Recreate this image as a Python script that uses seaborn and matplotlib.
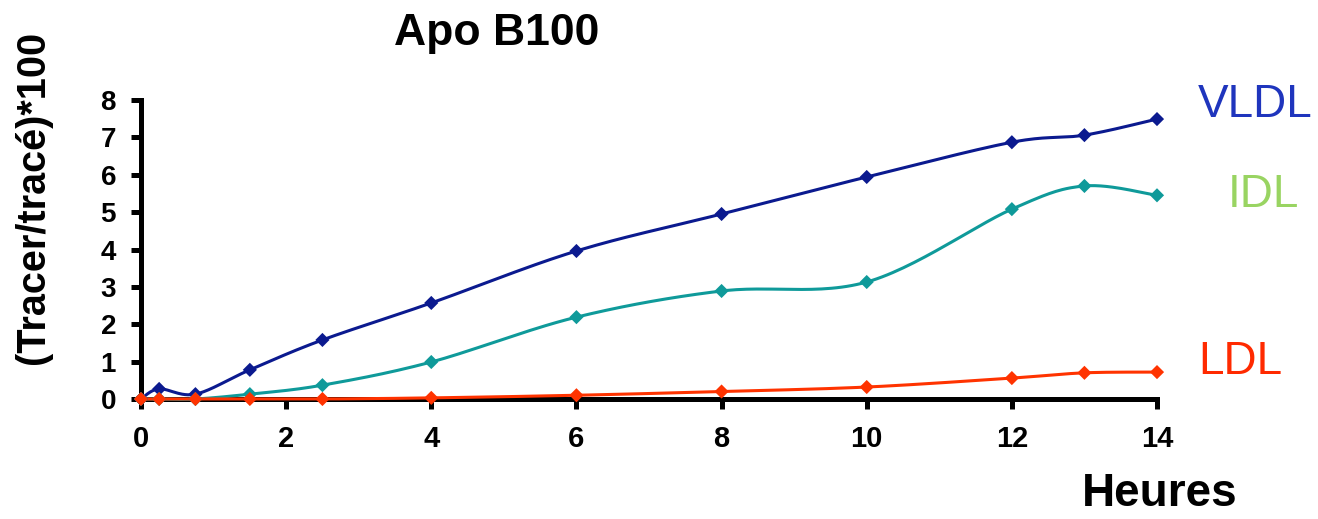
import numpy as np
import pandas as pd
import matplotlib
matplotlib.use("Agg")
import matplotlib.pyplot as plt
import seaborn as sns

# ---- data ----
hours = [0, 0.25, 0.75, 1.5, 2.5, 4, 6, 8, 10, 12, 13, 14]
vldl = [0.0, 0.27, 0.13, 0.78, 1.58, 2.57, 3.96, 4.95, 5.94, 6.87, 7.06, 7.49]
idl = [0.0, 0.0, 0.0, 0.13, 0.37, 0.99, 2.19, 2.89, 3.13, 5.08, 5.70, 5.45]
ldl = [0.0, 0.0, 0.0, 0.0, 0.0, 0.03, 0.10, 0.20, 0.32, 0.56, 0.70, 0.72]
series_names = ["VLDL", "IDL", "LDL"]
line_colors = {"VLDL": "#0b1a8f", "IDL": "#0f9a9a", "LDL": "#ff3300"}
label_colors = {"VLDL": "#1f35bd", "IDL": "#99d462", "LDL": "#ff2a00"}
title = "Apo B100"
xlabel = "Heures"
ylabel = "(Tracer/tracé)*100"
xticks = [0, 2, 4, 6, 8, 10, 12, 14]
yticks = [0, 1, 2, 3, 4, 5, 6, 7, 8]


def smooth(x, y, n=30):
    """Excel-like smoothed line: cubic Bezier segments with 1/6 tangents."""
    P = np.column_stack([x, y]).astype(float)
    out = []
    m = len(P)
    t = np.linspace(0, 1, n)[:, None]
    for i in range(m - 1):
        p0 = P[i]
        p3 = P[i + 1]
        pm = P[i - 1] if i > 0 else P[i]
        pp = P[i + 2] if i + 2 < m else P[i + 1]
        c1 = p0 + (p3 - pm) / 6.0
        c2 = p3 - (pp - p0) / 6.0
        seg = ((1 - t) ** 3) * p0 + 3 * ((1 - t) ** 2) * t * c1 + 3 * (1 - t) * t ** 2 * c2 + t ** 3 * p3
        out.append(seg if i == 0 else seg[1:])
    out = np.vstack(out)
    return out[:, 0], out[:, 1]


sns.set_theme(style="white")
plt.rcParams["font.family"] = ["Liberation Sans", "DejaVu Sans"]

pts = pd.DataFrame({
    "hours": hours * 3,
    "value": vldl + idl + ldl,
    "series": [s for s in series_names for _ in hours],
})
curves = []
for name, vals in zip(series_names, [vldl, idl, ldl]):
    sx, sy = smooth(hours, vals)
    curves.append(pd.DataFrame({"hours": sx, "value": sy, "series": name}))
curves = pd.concat(curves, ignore_index=True)

fig = plt.figure(figsize=(13.18, 5.19), dpi=100)
ax = fig.add_axes([141 / 1318, 1 - 399 / 519, (1157 - 141) / 1318, (399 - 100) / 519])

sns.lineplot(data=curves, x="hours", y="value", hue="series", palette=line_colors,
             hue_order=series_names, estimator=None, sort=False, linewidth=2.2,
             legend=False, ax=ax, zorder=4, clip_on=False)
sns.scatterplot(data=pts, x="hours", y="value", hue="series", palette=line_colors,
                hue_order=series_names, marker="D", s=52, linewidth=0,
                legend=False, ax=ax, zorder=5, clip_on=False)

ax.set_xlim(0, 14)
ax.set_ylim(0, 8)
ax.set_xticks(xticks)
ax.set_yticks(yticks)
ax.set_xlabel("")
ax.set_ylabel("")
for s in ["top", "right"]:
    ax.spines[s].set_visible(False)
for s in ["left", "bottom"]:
    ax.spines[s].set_color("black")
    ax.spines[s].set_linewidth(3.6)
    ax.spines[s].set_zorder(3)
ax.tick_params(axis="both", which="major", bottom=True, left=True, direction="out",
               length=7, width=3.6, color="black")
ax.tick_params(axis="x", labelsize=21, pad=12)
ax.tick_params(axis="y", labelsize=20, pad=11)
for lab in ax.get_xticklabels() + ax.get_yticklabels():
    lab.set_fontweight("bold")
    lab.set_color("black")
ax.set_facecolor("white")
ax.grid(False)

fig.text(497 / 1318, 1 - 33 / 519, title, ha="center", va="center",
         fontsize=32, fontweight="bold", color="black")
fig.text(1160 / 1318, 1 - 494 / 519, xlabel, ha="center", va="center",
         fontsize=33, fontweight="bold", color="black")
fig.text(33 / 1318, 1 - 197 / 519, ylabel, ha="center", va="center", rotation=90,
         fontsize=28.5, fontweight="bold", color="black")

label_pos = {"VLDL": (1255, 105), "IDL": (1263, 195), "LDL": (1240, 362)}
for name in series_names:
    px, py = label_pos[name]
    fig.text(px / 1318, 1 - py / 519, name, ha="center", va="center",
             fontsize=33, color=label_colors[name])

fig.savefig("out.png", dpi=100, facecolor="white")
